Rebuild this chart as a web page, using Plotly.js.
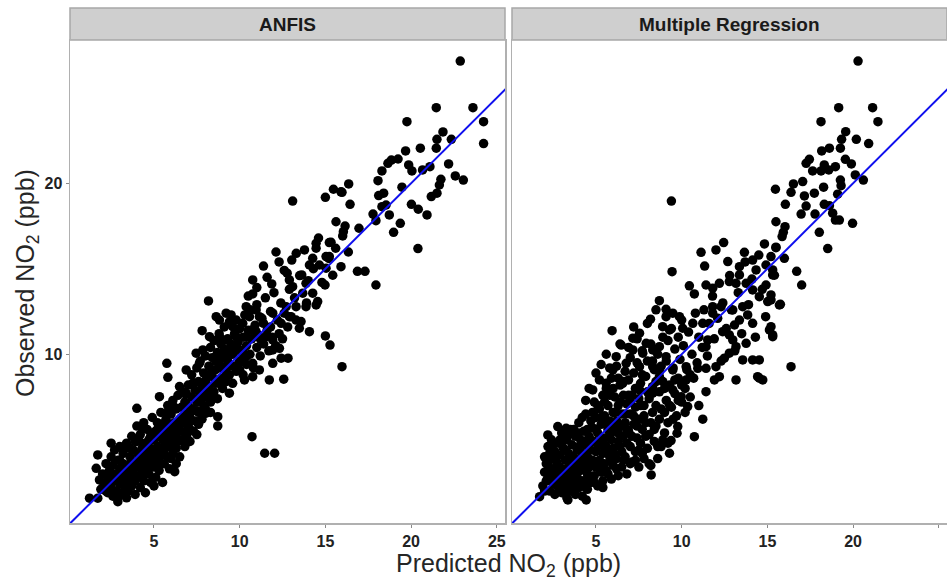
<!DOCTYPE html>
<html>
<head>
<meta charset="utf-8">
<script src="https://cdn.plot.ly/plotly-3.0.1.min.js"></script>
<style>
html,body{margin:0;padding:0;background:#fff;}
#chart{width:947px;height:581px;}
</style>
</head>
<body>
<div id="chart"></div>
<script>
// ---------- DATA ----------
const panelTitles = ["ANFIS", "Multiple Regression"];
const xTickVals = [5, 10, 15, 20, 25];
const yTickVals = [10, 20];
const xAxisTitle = "Predicted NO<sub>2</sub> (ppb)";
const yAxisTitle = "Observed NO<sub>2</sub> (ppb)";
const oneToOne = [0, 30];  // reference line y = x

// ANFIS: predicted (x) vs observed (y)
const anfisX = [
22.87,21.47,23.61,19.76,24.23,24.23,21.86,21.51,22.35,21.47,20.54,19.68,19.24,18.85,18.65,19.86,20.05,20.67,21.1,22.19,
18.3,18.07,22.58,23.05,19.47,21.74,21.65,21.51,21.18,18.4,18.11,18.54,18.3,17.78,17.95,18.73,20.02,20.42,20.93,19.37,
18.98,20.4,16.36,15.97,15.47,16.44,15.62,16.15,16.05,16.01,16.96,15.33,16.34,15.91,15.43,16.87,17.31,17.95,15.23,
13.09,15.0,15.91,12.12,11.39,13.04,13.78,14.46,14.46,15.23,15.04,14.26,14.07,14.65,15.04,12.77,12.9,13.09,13.62,13.87,
13.68,14.26,14.55,14.46,14.98,13.87,13.29,12.71,12.9,13.29,13.58,14.07,13.48,12.42,11.93,10.76,10.76,11.87,10.38,10.96,
11.15,11.39,10.57,10.18,9.59,9.21,9.5,8.18,8.63,8.82,7.81,8.24,8.82,9.21,9.79,10.38,10.96,11.54,11.93,12.32,
11.93,12.42,12.82,11.93,11.73,12.57,15.0,15.27,15.97,7.46,7.85,5.75,5.81,6.88,7.65,8.63,9.21,10.0,10.38,10.76,
11.15,10.76,10.0,9.21,8.43,8.04,8.82,9.59,10.28,7.26,6.49,5.32,6.88,8.24,9.4,
4.0,10.72,11.46,12.04,8.72,8.72,8.04,6.21,1.24,1.72,2.89,2.5,1.72,1.63,1.82,
1.9,2.0,2.1,2.2,2.3,2.3,2.4,2.5,2.5,2.6,2.6,
2.7,2.7,2.8,2.8,2.9,2.9,3.0,3.0,3.0,3.1,3.1,3.2,3.2,3.3,3.3,3.4,3.4,3.4,3.5,3.5,
3.6,3.6,3.7,3.7,3.7,3.8,3.8,3.9,3.9,3.9,4.0,4.0,4.0,4.1,4.1,4.2,4.2,4.2,4.3,4.3,4.4,4.4,4.4,4.5,4.5,4.5,
4.6,4.6,4.7,4.7,4.8,4.8,4.8,4.9,4.9,5.0,5.0,5.0,5.1,5.1,5.2,5.2,5.2,5.3,5.3,5.4,5.4,5.4,5.5,5.5,5.5,
5.6,5.6,5.7,5.7,5.8,5.8,5.8,5.9,5.9,6.0,6.0,6.0,6.1,6.1,6.2,6.2,6.3,6.3,6.3,6.4,6.4,6.5,6.5,6.5,
6.6,6.6,6.7,6.7,6.8,6.8,6.9,6.9,7.0,7.0,7.0,7.1,7.1,7.2,7.2,7.3,7.3,7.4,7.4,7.5,7.5,7.5,
7.6,7.6,7.7,7.7,7.8,7.8,7.9,7.9,8.0,8.0,8.0,8.1,8.2,8.2,8.3,8.3,8.4,8.4,8.5,8.5,
8.6,8.6,8.7,8.7,8.8,8.8,8.9,8.9,9.0,9.0,9.1,9.1,9.2,9.2,9.3,9.3,9.4,9.4,9.5,9.5,
9.6,9.7,9.7,9.8,9.8,9.9,10.0,10.0,10.1,10.2,10.2,10.3,10.4,10.4,10.5,10.6,10.6,10.7,10.8,10.9,11.0,11.0,
11.1,11.2,11.3,11.4,11.5,11.6,11.7,11.8,11.9,12.0,12.1,12.2,12.3,12.4,12.5,12.6,12.8,12.9,13.0,13.2,
13.5,14.0,14.3,13.9,14.8,15.2,15.6,14.6,13.3,12.6,12.3,11.6,11.0,10.5,
2.2,2.4,2.6,2.9,3.0,3.2,3.3,3.5,3.6,3.6,3.8,3.9,4.1,4.1,4.3,4.3,4.5,4.6,4.7,4.9,
4.9,5.0,5.1,5.2,5.3,5.4,5.5,5.6,5.7,5.8,5.9,6.0,6.1,6.2,6.3,6.4,6.6,6.7,6.8,6.9,
7.1,7.2,7.3,7.5,7.6,7.8,8.0,8.1,8.3,8.4,8.6,8.9,9.1,9.3,9.6,9.9,10.3,10.7,11.2,11.8
];
const anfisY = [
27.15,24.42,24.42,23.6,23.6,22.32,23.0,22.57,22.57,22.05,22.05,21.89,21.42,21.36,21.17,21.07,20.72,20.78,20.97,21.13,
20.72,20.15,20.43,20.19,19.77,20.23,19.9,19.42,19.22,19.42,19.28,18.73,18.63,18.2,17.81,18.15,18.77,18.48,18.15,17.66,
17.13,16.18,19.96,19.47,19.65,18.77,17.75,17.5,17.17,16.92,17.37,16.55,15.98,15.12,14.62,14.85,14.85,14.05,15.71,
18.96,19.18,19.5,15.98,15.16,15.51,16.1,16.49,16.2,16.53,15.71,15.61,15.22,15.22,15.03,14.74,14.35,13.95,14.64,14.15,
13.57,13.57,13.08,12.88,14.05,12.78,12.78,12.78,12.2,12.0,11.91,11.32,11.52,11.81,12.4,14.35,13.53,14.11,12.78,12.59,
12.2,11.81,12.2,11.81,11.61,12.4,12.3,13.12,12.2,12.0,11.38,11.03,11.03,10.84,11.03,11.03,11.32,11.03,10.84,10.35,
10.25,9.77,9.77,9.47,8.5,8.54,11.07,10.54,9.27,10.06,10.25,9.47,8.65,9.08,9.47,9.86,10.06,10.25,9.86,9.47,
9.08,8.69,9.08,9.27,9.08,8.5,8.3,8.3,8.5,8.3,8.11,7.52,7.72,7.72,7.72,
6.84,5.18,4.21,4.21,6.35,5.81,6.55,3.13,1.58,1.58,1.38,4.8,4.11,3.33,2.65,
2.1,3.0,2.4,3.6,1.9,2.8,3.2,2.2,4.0,1.7,3.5,
2.6,4.4,3.0,2.0,3.8,1.6,2.4,3.3,4.6,2.9,1.9,3.6,4.2,2.3,3.1,2.7,4.8,1.6,3.5,2.0,
4.0,2.9,3.3,2.3,5.2,4.4,3.0,3.7,1.8,2.6,4.9,3.4,5.8,4.1,2.9,3.6,2.2,5.3,4.5,3.2,3.9,2.6,6.0,4.8,3.5,1.9,
4.2,5.6,3.0,4.6,5.2,3.8,2.5,4.3,6.3,5.0,3.4,4.0,5.5,2.8,4.6,6.0,3.9,5.2,3.2,4.5,6.6,5.8,4.1,5.0,2.5,
5.5,3.6,6.2,4.7,5.3,7.0,4.0,5.9,3.3,6.5,4.8,5.6,4.2,7.3,6.0,5.1,6.8,4.5,3.6,5.7,7.6,6.2,5.0,4.0,
6.9,5.5,7.8,6.0,4.6,7.2,6.5,5.2,8.2,7.0,5.8,6.3,4.9,7.5,8.8,6.7,5.5,7.9,6.1,7.2,9.2,5.3,
8.4,6.6,7.6,9.6,8.0,6.2,8.9,7.0,9.9,8.4,6.8,7.5,9.3,8.1,10.4,7.2,8.7,9.8,7.8,10.8,
9.1,8.3,10.1,7.4,9.5,11.2,8.6,10.6,9.8,8.0,10.3,11.6,9.0,8.4,10.9,9.6,11.9,8.8,10.0,10.6,
9.3,11.2,10.4,9.0,12.0,10.7,9.6,11.5,10.1,11.0,8.8,12.3,10.5,9.4,11.4,10.0,12.6,10.9,9.2,11.7,10.4,12.9,
11.1,9.9,12.1,10.6,13.3,11.4,10.2,12.5,11.0,13.6,10.5,12.0,11.2,13.0,10.9,12.4,11.6,13.8,12.2,13.3,
14.6,14.3,15.0,13.0,14.2,15.6,16.2,16.8,15.9,14.9,15.4,14.5,13.9,13.4,
2.0,2.6,2.9,2.7,3.8,2.6,4.5,3.0,4.5,2.5,3.6,4.9,3.7,5.0,2.8,5.7,4.2,3.2,5.0,3.6,
5.4,2.3,4.3,5.6,4.0,3.6,5.9,4.4,5.0,6.6,4.6,3.9,5.8,6.9,5.4,4.9,6.3,5.0,7.7,6.0,
5.6,6.8,8.3,6.7,5.9,7.4,7.8,8.8,6.6,7.6,9.6,9.2,8.6,10.2,10.0,9.4,10.0,11.4,10.9,11.6
];

// Multiple Regression: predicted (x) vs observed (y)
const mrX = [
20.29,19.16,21.14,18.13,21.45,19.57,19.33,20.19,20.91,18.62,19.26,18.17,17.45,17.26,19.55,19.9,18.32,18.97,17.64,18.13,
18.58,20.13,20.6,19.26,19.3,18.28,17.06,16.52,16.38,15.47,17.16,17.74,19.1,16.05,17.26,18.32,18.62,16.97,17.78,18.81,
18.97,19.97,19.2,15.5,16.03,15.93,15.86,18.03,15.5,18.52,15.99,15.21,15.31,15.41,16.71,17.0,15.7,15.21,15.31,15.21,15.21,
9.4,9.44,11.13,12.0,12.45,11.34,12.69,13.66,13.37,14.14,14.83,15.5,14.34,14.92,15.31,13.37,13.76,14.14,14.92,14.53,
15.02,15.76,10.45,10.74,11.42,11.81,12.2,12.78,13.17,8.7,9.09,9.48,9.87,9.09,8.18,8.89,9.29,10.06,10.65,11.23,
11.81,12.3,11.81,12.98,13.56,13.85,13.37,14.14,13.08,15.12,15.31,16.38,12.39,12.78,11.52,11.42,12.98,13.76,13.17,12.78,
13.56,14.14,14.53,12.49,12.0,11.42,10.94,12.2,11.91,13.17,14.43,14.73,5.94,6.47,7.15,7.54,7.93,7.15,7.73,8.31,
8.7,9.09,6.18,5.98,6.76,7.54,8.31,8.7,9.48,10.26,10.26,5.2,4.81,5.59,6.56,7.54,8.31,9.48,11.42,9.97,
11.23,10.74,9.29,9.38,9.73,9.77,8.22,10.35,14.53,3.36,4.43,1.71,2.19,2.77,3.26,
1.9,2.0,2.0,2.1,2.2,2.2,2.3,2.3,2.4,2.4,2.5,2.5,2.6,2.6,2.7,2.7,2.8,2.8,
2.9,2.9,3.0,3.0,3.0,3.1,3.1,3.2,3.2,3.3,3.3,3.3,3.4,3.4,3.5,3.5,3.5,3.6,3.6,3.7,3.7,3.8,3.8,3.8,
3.9,3.9,4.0,4.0,4.0,4.1,4.1,4.2,4.2,4.3,4.3,4.3,4.4,4.4,4.5,4.5,4.5,4.6,4.6,4.7,4.7,4.7,4.8,4.8,
4.9,4.9,4.9,5.0,5.0,5.0,5.1,5.1,5.2,5.2,5.2,5.3,5.3,5.4,5.4,5.4,5.5,5.5,5.5,5.6,5.6,5.7,5.7,5.7,5.8,5.8,
5.9,5.9,5.9,6.0,6.0,6.0,6.1,6.1,6.2,6.2,6.2,6.3,6.3,6.3,6.4,6.4,6.5,6.5,6.5,6.6,6.6,6.7,6.7,6.7,6.8,6.8,
6.9,6.9,7.0,7.0,7.0,7.1,7.1,7.2,7.2,7.3,7.3,7.4,7.4,7.5,7.5,7.5,7.6,7.6,7.7,7.7,7.8,7.8,
7.9,7.9,8.0,8.0,8.1,8.1,8.2,8.2,8.3,8.3,8.4,8.4,8.5,8.5,8.6,8.6,8.7,8.7,8.8,8.8,8.9,8.9,9.0,9.0,
9.1,9.1,9.2,9.2,9.3,9.4,9.4,9.5,9.6,9.6,9.7,9.8,9.8,9.9,10.0,10.0,10.1,10.2,10.3,10.4,10.5,10.6,10.7,10.8,10.9,11.0,11.0,
11.2,11.3,11.5,11.6,11.8,11.9,12.1,12.3,12.4,12.6,12.8,12.9,13.1,13.3,13.5,13.7,13.9,14.1,14.3,14.5,14.7,14.9,
4.4,4.6,5.0,5.3,5.6,6.9,7.2,8.0,8.5,7.4,6.4,5.8,
2.0,2.1,2.2,2.3,2.5,2.6,2.7,2.8,2.9,3.0,3.1,3.2,3.2,3.4,3.4,3.5,3.6,3.7,3.7,3.8,
3.9,4.0,4.0,4.1,4.2,4.2,4.3,4.4,4.4,4.5,4.6,4.6,4.7,4.8,4.8,4.9,5.0,5.0,5.1,5.1,
5.2,5.3,5.3,5.4,5.5,5.5,5.6,5.6,5.7,5.8,5.8,5.9,6.0,6.0,6.1,6.1,6.2,6.3,6.3,6.4,
6.4,6.5,6.6,6.6,6.7,6.8,6.8,6.9,7.0,7.0,7.1,7.2,7.3,7.3,7.4,7.5,7.6,7.7,7.7,7.8,
7.9,8.0,8.1,8.2,8.3,8.4,8.5,8.6,8.7,8.8,8.9,9.0,9.2,9.3,9.5,9.6,9.8,10.0,10.2,10.5
];
const mrY = [
27.15,24.42,24.42,23.6,23.6,23.02,22.57,22.57,22.32,22.05,22.05,21.89,21.4,21.17,21.4,21.13,21.07,20.97,20.72,20.72,
20.78,20.49,20.19,20.19,19.86,19.77,20.1,19.96,19.47,19.65,19.26,19.42,19.36,18.77,18.67,18.77,18.69,18.2,18.2,18.25,
17.85,17.66,17.85,17.75,17.46,17.13,16.88,17.13,16.23,16.18,15.61,15.71,14.93,14.62,14.85,14.05,12.88,11.61,11.13,13.47,13.18,
18.96,14.83,15.96,16.1,16.53,15.16,15.42,15.96,15.12,15.51,16.45,16.26,14.93,15.22,14.64,14.64,14.15,13.76,14.05,13.37,
13.08,12.92,14.0,13.53,14.05,13.86,14.15,14.25,14.15,13.13,12.63,12.4,12.2,12.2,12.05,11.61,11.42,11.52,11.81,11.81,
12.78,12.78,12.4,12.59,12.78,12.3,12.0,11.81,11.71,11.42,11.03,9.27,11.32,11.13,10.84,10.44,10.84,10.64,10.44,10.06,
9.67,9.67,9.67,9.77,9.27,9.18,9.18,8.69,8.5,8.5,8.69,8.5,11.38,10.54,10.94,11.23,10.64,10.25,10.06,10.25,
10.44,9.86,9.86,9.08,9.47,9.27,9.27,8.69,9.08,9.27,8.5,8.5,7.91,8.3,8.3,7.91,7.72,7.91,7.81,7.52,
6.2,5.18,4.21,4.95,5.38,5.77,2.94,6.94,8.6,1.48,1.48,1.67,5.28,5.77,5.67,
2.3,3.1,4.0,2.6,3.5,4.6,2.0,3.0,3.9,5.0,2.4,3.3,4.3,1.8,2.9,3.7,4.8,2.2,
3.4,4.1,2.6,5.4,1.9,3.0,4.5,3.8,2.3,5.0,3.3,1.6,4.2,2.8,3.6,5.6,2.0,4.7,3.1,2.5,4.0,5.2,3.4,1.8,
4.4,2.8,3.8,6.0,2.2,5.0,3.2,4.2,1.7,5.5,2.6,3.6,4.7,6.5,3.0,4.0,2.1,5.2,3.4,6.1,4.4,2.5,3.8,5.7,
4.9,2.9,7.2,3.4,6.3,4.3,5.4,2.3,3.8,6.8,4.7,5.9,3.1,4.2,7.6,2.6,5.1,6.4,3.6,4.6,8.0,5.6,3.0,7.0,4.0,6.1,
5.0,2.7,8.6,6.6,3.5,4.5,7.5,5.5,3.9,6.1,9.3,4.9,7.0,2.9,5.8,8.2,4.3,6.5,3.4,7.6,5.2,9.0,4.0,6.0,3.0,7.1,
5.5,8.5,4.6,6.5,9.8,3.7,7.6,5.9,8.9,4.3,6.9,5.1,9.5,3.4,7.4,6.2,8.3,4.8,5.6,10.2,7.0,3.9,
8.7,6.0,4.5,9.6,7.4,5.3,10.6,3.5,6.6,8.1,4.9,9.1,7.0,5.8,10.0,3.9,7.8,6.2,9.3,4.6,8.4,11.0,6.6,5.4,
9.6,7.3,10.8,6.0,8.2,11.5,6.9,9.2,10.3,7.7,6.4,11.0,8.6,9.7,7.2,12.0,10.5,8.0,9.1,11.3,7.5,10.0,8.6,12.4,9.5,11.0,7.0,
10.4,12.6,9.9,11.8,13.4,10.9,12.1,9.6,13.0,11.5,14.6,12.6,10.2,13.6,11.2,15.4,12.9,14.4,11.0,15.8,13.8,12.2,
7.3,8.0,8.9,9.4,10.0,10.4,11.6,11.8,12.6,10.9,10.6,9.2,
2.0,3.6,2.8,4.2,4.7,2.6,4.1,3.2,5.0,4.8,2.6,4.4,1.9,3.8,5.3,2.5,4.0,5.6,3.6,2.3,
3.3,4.6,5.4,2.6,3.7,6.3,4.9,2.2,3.3,5.6,4.4,2.9,3.8,6.6,4.9,2.5,5.6,3.7,4.7,7.0,
3.3,5.0,6.3,2.2,4.5,7.2,5.9,3.2,4.2,7.6,5.3,3.8,5.9,8.0,4.1,6.6,3.3,5.4,8.6,4.6,
7.2,5.8,3.8,8.4,6.5,4.8,5.6,7.6,3.6,7.2,5.2,6.4,8.0,3.8,5.8,4.4,7.0,4.2,8.8,6.4,
5.2,7.8,3.6,6.0,9.6,5.6,8.4,4.6,9.0,6.8,5.0,8.0,4.8,7.0,6.2,8.5,7.3,8.2,6.6,8.8
];

// ---------- CHART ----------
const W = 947, H = 581;
const px = v => v / W;
const py = v => (H - v) / H;

const xRange = [0.1, 25.48];
const yRange = [0.13, 28.38];
const dom1 = [px(70), px(505)];
const dom2 = [px(512), px(947)];
const yDom = [py(523), py(40)];

const ptMarker = {color: '#000000', size: 9.5, line: {width: 0}};
const refLineStyle = {color: '#1010ee', width: 2};

const traces = [
  {x: anfisX, y: anfisY, type: 'scatter', mode: 'markers', marker: ptMarker, xaxis: 'x', yaxis: 'y', hoverinfo: 'x+y'},
  {x: oneToOne, y: oneToOne, type: 'scatter', mode: 'lines', line: refLineStyle, xaxis: 'x', yaxis: 'y', hoverinfo: 'skip'},
  {x: mrX, y: mrY, type: 'scatter', mode: 'markers', marker: ptMarker, xaxis: 'x2', yaxis: 'y2', hoverinfo: 'x+y'},
  {x: oneToOne, y: oneToOne, type: 'scatter', mode: 'lines', line: refLineStyle, xaxis: 'x2', yaxis: 'y2', hoverinfo: 'skip'}
];

const tickFont = {family: 'Liberation Sans, Arial, sans-serif', size: 16, color: '#222222', weight: 'bold'};
const borderColor = '#b0b0b0';

function xAxis(domain, anchor) {
  return {
    domain: domain, anchor: anchor, range: xRange, autorange: false,
    tickmode: 'array', tickvals: xTickVals, ticktext: xTickVals.map(String),
    ticks: 'outside', ticklen: 3, tickwidth: 1, tickcolor: '#8a8a8a',
    tickfont: tickFont, showgrid: false, zeroline: false,
    showline: true, linecolor: borderColor, linewidth: 1.5, mirror: true
  };
}
function yAxis(anchor, showLabels) {
  return {
    domain: yDom, anchor: anchor, range: yRange, autorange: false,
    tickmode: 'array', tickvals: yTickVals, ticktext: yTickVals.map(String),
    ticks: showLabels ? 'outside' : '', ticklen: 3, tickwidth: 1, tickcolor: '#8a8a8a',
    showticklabels: showLabels, tickfont: tickFont, showgrid: false, zeroline: false,
    showline: true, linecolor: borderColor, linewidth: 1.5, mirror: true
  };
}

const stripShapes = [dom1, dom2].map(d => ({
  type: 'rect', xref: 'paper', yref: 'paper',
  x0: d[0], x1: d[1], y0: py(40), y1: py(8),
  fillcolor: '#cfcfcf', line: {color: '#a8a8a8', width: 1.5}, layer: 'below'
}));

const stripFont = {family: 'Liberation Sans, Arial, sans-serif', size: 19, color: '#1a1a1a', weight: 'bold'};
const titleFont = {family: 'Liberation Sans, Arial, sans-serif', size: 25, color: '#262626'};

const annotations = [
  {text: panelTitles[0], xref: 'paper', yref: 'paper', x: (dom1[0] + dom1[1]) / 2, y: py(24),
   xanchor: 'center', yanchor: 'middle', showarrow: false, font: stripFont},
  {text: panelTitles[1], xref: 'paper', yref: 'paper', x: (dom2[0] + dom2[1]) / 2, y: py(24),
   xanchor: 'center', yanchor: 'middle', showarrow: false, font: stripFont},
  {text: xAxisTitle, xref: 'paper', yref: 'paper', x: px(508), y: py(565),
   xanchor: 'center', yanchor: 'middle', showarrow: false, font: titleFont},
  {text: yAxisTitle, xref: 'paper', yref: 'paper', x: px(27), y: py(283), textangle: -90,
   xanchor: 'center', yanchor: 'middle', showarrow: false, font: titleFont}
];

const layout = {
  width: W, height: H, autosize: false,
  margin: {l: 0, r: 0, t: 0, b: 0, pad: 0},
  paper_bgcolor: '#ffffff', plot_bgcolor: '#ffffff',
  showlegend: false,
  xaxis: xAxis(dom1, 'y'),
  yaxis: yAxis('x', true),
  xaxis2: xAxis(dom2, 'y2'),
  yaxis2: yAxis('x2', false),
  shapes: stripShapes,
  annotations: annotations
};

Plotly.newPlot('chart', traces, layout, {displayModeBar: false, staticPlot: true});
</script>
</body>
</html>
